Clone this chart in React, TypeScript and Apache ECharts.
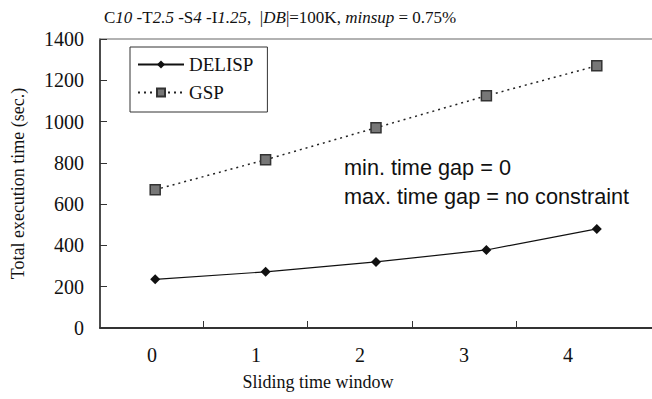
import React, { useEffect, useRef } from "react";
import * as echarts from "echarts";

const categories = ["0", "1", "2", "3", "4"];
const delispTimes = [236, 272, 320, 378, 480];
const gspTimes = [670, 815, 970, 1125, 1270];
const yMin = 0;
const yMax = 1400;
const yStep = 200;
const tickMarks = [1, 4];

const SERIF = '"Liberation Serif", "DejaVu Serif", serif';
const SANS = '"Liberation Sans", Arial, sans-serif';

export default function App() {
  const ref = useRef<HTMLDivElement>(null);
  useEffect(() => {
    document.body.style.margin = "0";
    const chart = echarts.init(ref.current!, undefined, { renderer: "svg" });
    const option: any = {
      animation: false,
      backgroundColor: "#ffffff",
      title: {
        left: 99,
        top: 4,
        text: "C{i|10} -T{i|2.5} -S{i|4} -I{i|1.25},  |{i|DB}|=100K, {i|minsup} = 0.75%",
        textStyle: {
          fontFamily: SERIF,
          fontSize: 17,
          fontWeight: "normal",
          color: "#111",
          rich: {
            i: { fontFamily: SERIF, fontSize: 17, fontStyle: "italic", color: "#111" },
          },
        },
      },
      legend: {
        left: 130,
        top: 47,
        orient: "vertical",
        borderColor: "#333",
        borderWidth: 1,
        padding: [8, 14, 10, 7],
        itemGap: 9,
        itemWidth: 46,
        itemHeight: 10,
        textStyle: { fontFamily: SERIF, fontSize: 19, color: "#111" },
        data: ["DELISP", "GSP"],
      },
      grid: [
        { left: 100, top: 39, width: 557, height: 289 },
        { left: 100, top: 39, width: 520, height: 289 },
        { left: 203.5, top: 39, width: 312.5, height: 289 },
      ],
      xAxis: [
        {
          gridIndex: 0,
          type: "category",
          data: categories,
          boundaryGap: true,
          axisLine: { show: true, lineStyle: { color: "#333", width: 2 } },
          axisTick: { show: false },
          axisLabel: { show: false },
        },
        {
          gridIndex: 0,
          type: "category",
          position: "top",
          data: categories,
          axisLine: { show: true, lineStyle: { color: "#999", width: 1.5 } },
          axisTick: { show: false },
          axisLabel: { show: false },
        },
        {
          gridIndex: 1,
          type: "category",
          data: categories,
          axisLine: { show: false },
          axisTick: { show: false },
          axisLabel: { fontFamily: SERIF, fontSize: 20, color: "#111", margin: 17 },
          name: "Sliding time window",
          nameLocation: "middle",
          nameGap: 45,
          nameTextStyle: { fontFamily: SERIF, fontSize: 18, color: "#111", padding: [0, 84, 0, 0] },
        },
        {
          gridIndex: 2,
          type: "value",
          min: tickMarks[0],
          max: tickMarks[1],
          interval: 1,
          axisLine: { show: false },
          axisTick: { show: true, inside: true, length: 7, lineStyle: { color: "#333", width: 1 } },
          axisLabel: { show: false },
          splitLine: { show: false },
        },
      ],
      yAxis: [
        {
          gridIndex: 0,
          type: "value",
          min: yMin,
          max: yMax,
          interval: yStep,
          axisLine: { show: true, lineStyle: { color: "#111", width: 1.5 } },
          axisTick: { show: true, inside: true, length: 7, lineStyle: { color: "#333" } },
          axisLabel: {
            fontFamily: SERIF,
            fontSize: 20,
            color: "#111",
            margin: 16,
            formatter: (v: number) => String(v),
          },
          splitLine: { show: false },
          name: "Total execution time (sec.)",
          nameLocation: "middle",
          nameGap: 73,
          nameTextStyle: { fontFamily: SERIF, fontSize: 18, color: "#111" },
        },
        { gridIndex: 1, type: "value", show: false },
        { gridIndex: 2, type: "value", show: false },
      ],
      series: [
        {
          type: "line",
          name: "DELISP",
          xAxisIndex: 0,
          yAxisIndex: 0,
          data: delispTimes,
          symbol: "diamond",
          symbolSize: 10,
          lineStyle: { color: "#111", width: 1.2 },
          itemStyle: { color: "#111" },
        },
        {
          type: "line",
          name: "GSP",
          xAxisIndex: 0,
          yAxisIndex: 0,
          data: gspTimes,
          symbol: "rect",
          symbolSize: 10,
          lineStyle: { color: "#222", width: 1.5, type: [2, 4] },
          itemStyle: { color: "#777", borderColor: "#333", borderWidth: 1.5 },
        },
      ],
      graphic: [
        {
          type: "text",
          left: 344,
          top: 156,
          style: { text: "min. time gap = 0", font: `21.7px ${SANS}`, fill: "#111" },
        },
        {
          type: "text",
          left: 344,
          top: 185,
          style: { text: "max. time gap = no constraint", font: `21.7px ${SANS}`, fill: "#111" },
        },
      ],
    };
    chart.setOption(option);
    return () => chart.dispose();
  }, []);
  return (
    <div
      ref={ref}
      style={{ position: "absolute", left: 0, top: 0, width: 652, height: 399 }}
    />
  );
}
